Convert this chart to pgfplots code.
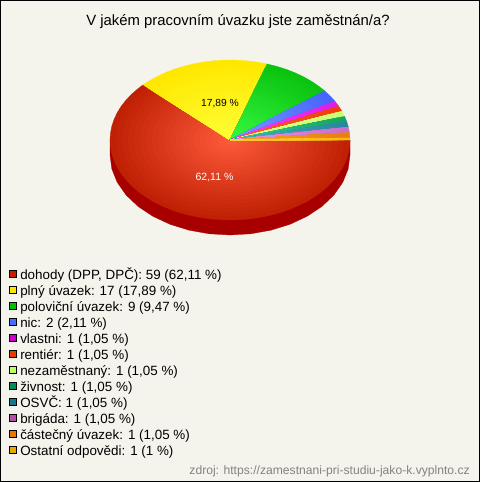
\documentclass[border=0pt]{standalone}
\usepackage{pgfplots}
\usepackage{pgfplotstable}
\usepackage{fontspec}
\setmainfont{Liberation Sans}
\pgfplotsset{compat=1.18}
% counts: 59, 17, 9, 2, 1, 1, 1, 1, 1, 1, 1, 1
\pgfplotstableread{
a rho
0 0
0 1
5 1
10 1
15 1
20 1
25 1
30 1
35 1
40 1
45 1
50 1
55 1
60 1
65 1
70 1
75 1
80 1
85 1
90 1
95 1
100 1
105 1
110 1
115 1
120 1
125 1
130 1
135 1
140 1
145 1
150 1
155 1
160 1
165 1
170 1
175 1
180 1
185 1
190 1
195 1
200 1
205 1
210 1
215 1
220 1
223.6 1
}\tDohody
\pgfplotstableread{
a rho
0 0
223.6 1
228 1
233 1
238 1
243 1
248 1
253 1
258 1
263 1
268 1
273 1
278 1
283 1
288 1
}\tPlny
\pgfplotstableread{
a rho
0 0
288 1
293 1
298 1
303 1
308 1
313 1
318 1
322.1 1
}\tPolo
\pgfplotstableread{
a rho
0 0
322.1 1
326 1
331 1
}\tNic
\pgfplotstableread{
a rho
0 0
331 1
334.93 1
}\tVlastni
\pgfplotstableread{
a rho
0 0
334.93 1
338.86 1
}\tRentier
\pgfplotstableread{
a rho
0 0
338.86 1
342.79 1
}\tNezam
\pgfplotstableread{
a rho
0 0
342.79 1
346.71 1
}\tZivnost
\pgfplotstableread{
a rho
0 0
346.71 1
350.64 1
}\tOsvc
\pgfplotstableread{
a rho
0 0
350.64 1
354.57 1
}\tBrigada
\pgfplotstableread{
a rho
0 0
354.57 1
358.5 1
}\tCastecny
\pgfplotstableread{
a rho
0 0
358.5 1
360 1
}\tOstatni
\pgfplotstableread{
a d
0 0
0 15
10 15
20 15
30 15
40 15
50 15
60 15
70 15
80 15
90 15
100 15
110 15
120 15
130 15
140 15
150 15
160 15
170 15
180 15
180 0
}\tSide
\definecolor{bgc}{RGB}{245,244,236}
\definecolor{sidec}{RGB}{168,0,0}
\definecolor{e1}{RGB}{192,32,4}\definecolor{c1}{RGB}{255,92,60}
\definecolor{e2}{RGB}{255,232,0}\definecolor{c2}{RGB}{255,255,55}
\definecolor{e3}{RGB}{10,195,15}\definecolor{c3}{RGB}{55,250,65}
\definecolor{e4}{RGB}{70,100,255}\definecolor{c4}{RGB}{120,160,255}
\definecolor{e5}{RGB}{220,30,230}\definecolor{c5}{RGB}{245,70,250}
\definecolor{e6}{RGB}{240,60,10}\definecolor{c6}{RGB}{255,100,50}
\definecolor{e7}{RGB}{200,255,110}\definecolor{c7}{RGB}{225,255,150}
\definecolor{e8}{RGB}{20,165,100}\definecolor{c8}{RGB}{60,205,140}
\definecolor{e9}{RGB}{40,135,160}\definecolor{c9}{RGB}{80,175,200}
\definecolor{e10}{RGB}{200,110,200}\definecolor{c10}{RGB}{235,150,235}
\definecolor{e11}{RGB}{235,125,10}\definecolor{c11}{RGB}{255,165,50}
\definecolor{e12}{RGB}{250,185,20}\definecolor{c12}{RGB}{255,215,60}
\definecolor{l1}{RGB}{198,30,0}
\definecolor{l2}{RGB}{255,230,0}
\definecolor{l3}{RGB}{0,190,0}
\definecolor{l4}{RGB}{70,110,255}
\definecolor{l5}{RGB}{200,0,200}
\definecolor{l6}{RGB}{230,60,0}
\definecolor{l7}{RGB}{190,255,100}
\definecolor{l8}{RGB}{0,140,90}
\definecolor{l9}{RGB}{20,120,140}
\definecolor{l10}{RGB}{180,80,170}
\definecolor{l11}{RGB}{230,120,0}
\definecolor{l12}{RGB}{230,170,0}
\newcommand\slice[3]{\pgfplotsinvokeforeach{100,95,...,5}{%
  \addplot[fill=#2!##1!#3, draw=#2!##1!#3, line width=.2pt]
    table[x expr={230+120*##1/100*\thisrow{rho}*cos(\thisrow{a})},
          y expr={140+80*##1/100*\thisrow{rho}*sin(\thisrow{a})}]{#1} -- cycle;}}
\newcommand\legsq[2]{\addplot[only marks, mark=square*, mark size=2.7pt,
   mark options={fill=#1, draw=black, line width=.7pt}] coordinates {(13,#2)};}
\newcommand\legtx[2]{\node[anchor=base west, inner sep=0pt, font=\fontsize{10.05pt}{11pt}\selectfont] at (axis cs:20,#1) {#2};}
\begin{document}
\begin{tikzpicture}
\begin{axis}[hide axis, scale only axis, width=360pt, height=361.5pt,
  xmin=0, xmax=480, ymin=0, ymax=482, y dir=reverse, clip=false]
\addplot[fill=bgc, draw=black, line width=.75pt] coordinates {(.5,.5)(479.5,.5)(479.5,481.5)(.5,481.5)} -- cycle;
\addplot[fill=sidec, draw=sidec, line width=.2pt]
  table[x expr={230+120*cos(\thisrow{a})}, y expr={140+80*sin(\thisrow{a})+\thisrow{d}}]{\tSide} -- cycle;
\slice{\tDohody}{e1}{c1}
\slice{\tPlny}{e2}{c2}
\slice{\tPolo}{e3}{c3}
\slice{\tNic}{e4}{c4}
\slice{\tVlastni}{e5}{c5}
\slice{\tRentier}{e6}{c6}
\slice{\tNezam}{e7}{c7}
\slice{\tZivnost}{e8}{c8}
\slice{\tOsvc}{e9}{c9}
\slice{\tBrigada}{e10}{c10}
\slice{\tCastecny}{e11}{c11}
\slice{\tOstatni}{e12}{c12}
\legsq{l1}{274}
\legsq{l2}{290}
\legsq{l3}{306}
\legsq{l4}{322}
\legsq{l5}{338}
\legsq{l6}{354}
\legsq{l7}{370}
\legsq{l8}{386}
\legsq{l9}{402}
\legsq{l10}{418}
\legsq{l11}{434}
\legsq{l12}{450}
\node[font=\fontsize{11.15pt}{13pt}\selectfont, anchor=base] at (axis cs:238,25) {V jakém pracovním úvazku jste zaměstnán/a?};
\node[font=\fontsize{7.7pt}{9pt}\selectfont, text=black] at (axis cs:220,103.5) {17,89 \%};
\node[font=\fontsize{7.9pt}{9pt}\selectfont, text=white] at (axis cs:214.5,177) {62,11 \%};
\legtx{279}{dohody (DPP, DPČ): 59 (62,11 \%)}
\legtx{295}{plný úvazek: 17 (17,89 \%)}
\legtx{311}{poloviční úvazek: 9 (9,47 \%)}
\legtx{327}{nic: 2 (2,11 \%)}
\legtx{343}{vlastni: 1 (1,05 \%)}
\legtx{359}{rentiér: 1 (1,05 \%)}
\legtx{375}{nezaměstnaný: 1 (1,05 \%)}
\legtx{391}{živnost: 1 (1,05 \%)}
\legtx{407}{OSVČ: 1 (1,05 \%)}
\legtx{423}{brigáda: 1 (1,05 \%)}
\legtx{439}{částečný úvazek: 1 (1,05 \%)}
\legtx{455}{Ostatní odpovědi: 1 (1 \%)}
\node[font=\fontsize{9.1pt}{11pt}\selectfont, text={rgb,255:red,130;green,130;blue,130}, anchor=base east, inner sep=0pt] at (axis cs:470,474) {zdroj: https://zamestnani-pri-studiu-jako-k.vyplnto.cz};
\end{axis}
\end{tikzpicture}
\end{document}
